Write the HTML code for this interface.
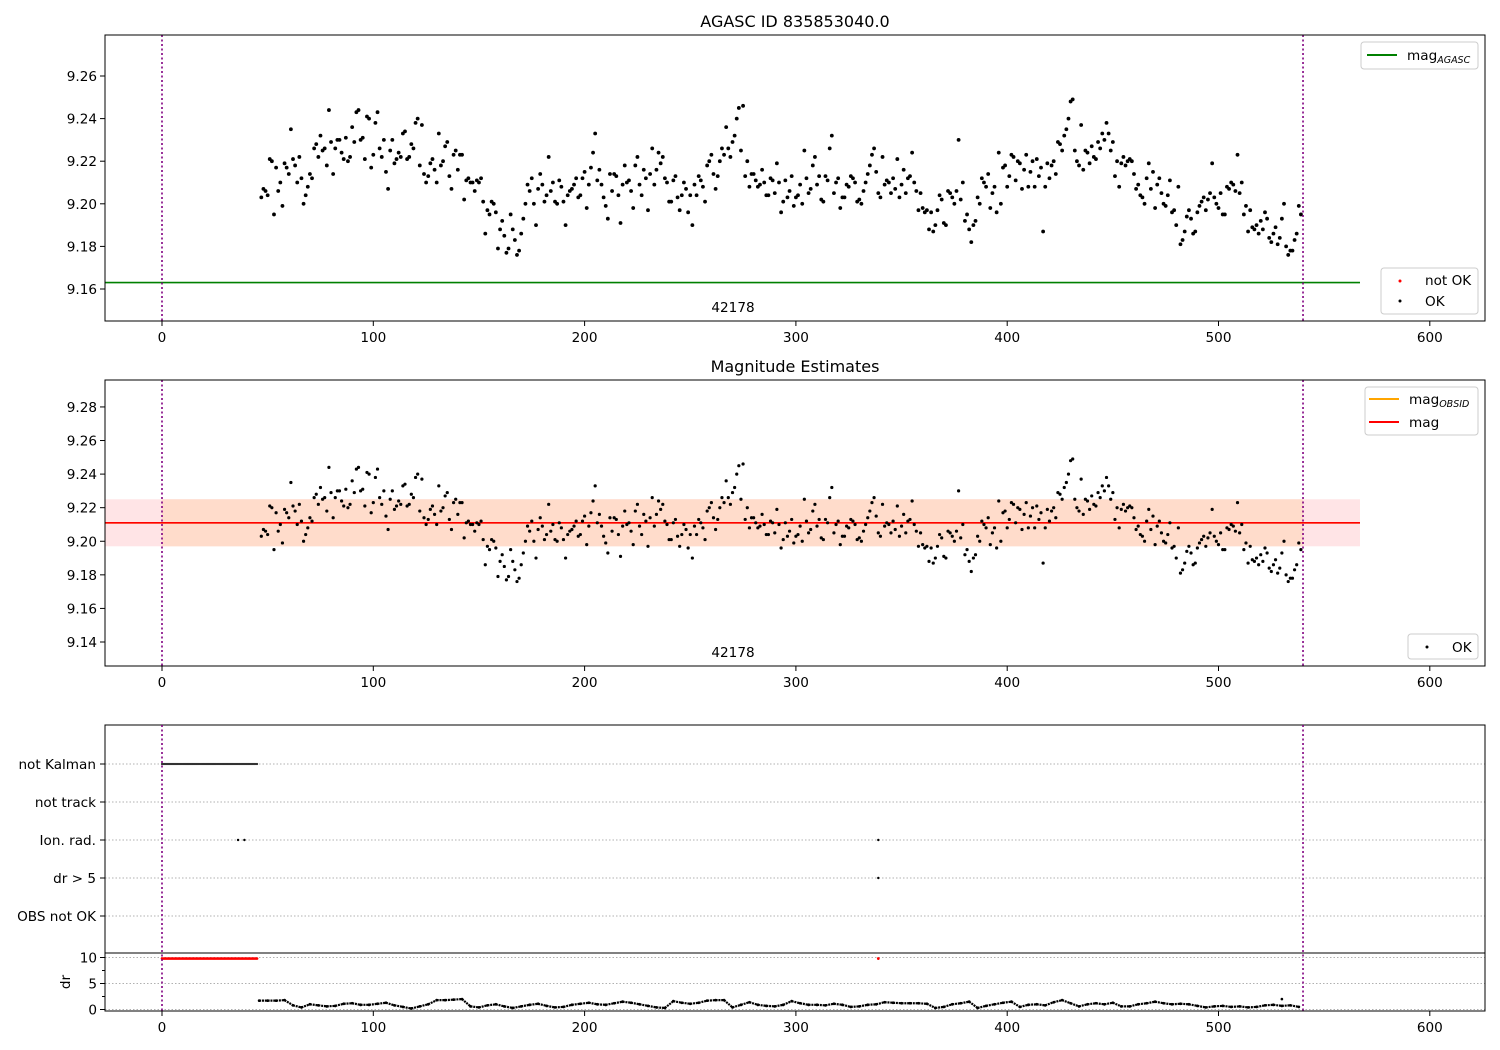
<!DOCTYPE html>
<html><head><meta charset="utf-8"><style>
body{margin:0;background:#fff}
svg{display:block;font-family:"DejaVu Sans","Liberation Sans",sans-serif}
</style></head><body>
<svg id="fig" width="1500" height="1050" viewBox="0 0 1500 1050" xmlns="http://www.w3.org/2000/svg"></svg>
<script>
// ---- data ----
const magStartX = 47, magStepX = 2;
const magValues = [
9.203,9.206,9.221,9.195,9.206,9.199,9.217,9.235,9.218,9.222,
9.200,9.208,9.212,9.228,9.232,9.226,9.244,9.214,9.230,9.224,
9.231,9.222,9.229,9.244,9.231,9.241,9.217,9.238,9.226,9.230,
9.207,9.230,9.221,9.222,9.234,9.222,9.226,9.240,9.237,9.210,
9.219,9.216,9.233,9.220,9.229,9.207,9.225,9.223,9.202,9.212,
9.210,9.211,9.212,9.186,9.195,9.200,9.179,9.192,9.177,9.195,
9.183,9.178,9.193,9.209,9.212,9.190,9.214,9.201,9.222,9.210,
9.200,9.208,9.190,9.206,9.209,9.203,9.212,9.198,9.217,9.233,
9.216,9.203,9.193,9.206,9.213,9.191,9.218,9.211,9.198,9.222,
9.204,9.212,9.214,9.209,9.224,9.222,9.210,9.201,9.213,9.197,
9.210,9.196,9.190,9.204,9.211,9.201,9.220,9.214,9.213,9.226,
9.236,9.222,9.232,9.245,9.246,9.220,9.214,9.211,9.209,9.210,
9.204,9.211,9.219,9.196,9.211,9.206,9.199,9.204,9.200,9.212,
9.207,9.222,9.213,9.201,9.211,9.232,9.210,9.198,9.203,9.208,
9.212,9.201,9.200,9.210,9.218,9.226,9.205,9.222,9.211,9.205,
9.207,9.203,9.216,9.212,9.224,9.206,9.205,9.196,9.188,9.187,
9.197,9.202,9.190,9.205,9.200,9.230,9.210,9.195,9.182,9.192,
9.200,9.210,9.214,9.205,9.196,9.200,9.218,9.213,9.222,9.220,
9.207,9.223,9.215,9.208,9.213,9.187,9.219,9.218,9.214,9.228,
9.232,9.240,9.249,9.220,9.237,9.225,9.219,9.222,9.229,9.233,
9.238,9.225,9.213,9.208,9.222,9.220,9.220,9.207,9.204,9.200,
9.219,9.215,9.209,9.205,9.199,9.211,9.197,9.208,9.183,9.194,
9.193,9.187,9.199,9.203,9.202,9.219,9.200,9.205,9.195,9.207,
9.209,9.223,9.210,9.199,9.197,9.188,9.186,9.188,9.193,9.182,
9.189,9.184,9.200,9.176,9.178,9.186,9.195];
const magStartXB = 48;
const magValuesB = [
9.207,9.204,9.220,9.217,9.210,9.219,9.214,9.221,9.210,9.212,
9.204,9.214,9.226,9.222,9.225,9.218,9.229,9.226,9.230,9.221,
9.220,9.236,9.243,9.230,9.221,9.240,9.223,9.243,9.222,9.215,
9.225,9.219,9.224,9.233,9.221,9.228,9.238,9.218,9.214,9.213,
9.221,9.210,9.218,9.227,9.213,9.223,9.216,9.223,9.211,9.210,
9.206,9.210,9.201,9.197,9.201,9.196,9.188,9.185,9.179,9.188,
9.176,9.186,9.200,9.206,9.200,9.207,9.209,9.204,9.206,9.201,
9.211,9.201,9.204,9.207,9.212,9.204,9.215,9.209,9.224,9.211,
9.209,9.199,9.214,9.214,9.204,9.209,9.210,9.206,9.218,9.209,
9.216,9.197,9.226,9.216,9.219,9.212,9.201,9.211,9.203,9.204,
9.207,9.204,9.209,9.213,9.208,9.218,9.223,9.207,9.220,9.223,
9.226,9.229,9.240,9.225,9.213,9.208,9.214,9.208,9.216,9.204,
9.212,9.205,9.210,9.201,9.203,9.213,9.203,9.209,9.225,9.205,
9.218,9.209,9.202,9.213,9.226,9.205,9.212,9.203,9.209,9.213,
9.210,9.202,9.206,9.214,9.223,9.215,9.203,9.209,9.210,9.212,
9.221,9.209,9.205,9.213,9.210,9.197,9.198,9.197,9.196,9.190,
9.204,9.191,9.206,9.203,9.206,9.202,9.192,9.188,9.190,9.203,
9.212,9.208,9.198,9.208,9.224,9.217,9.208,9.223,9.211,9.219,
9.216,9.208,9.220,9.221,9.217,9.208,9.212,9.220,9.229,9.225,
9.235,9.248,9.225,9.218,9.216,9.224,9.227,9.221,9.226,9.230,
9.233,9.229,9.220,9.219,9.218,9.221,9.214,9.209,9.203,9.212,
9.207,9.198,9.212,9.200,9.204,9.196,9.190,9.181,9.187,9.197,
9.186,9.196,9.201,9.197,9.205,9.203,9.198,9.195,9.208,9.210,
9.206,9.205,9.195,9.187,9.189,9.190,9.192,9.196,9.184,9.186,
9.181,9.193,9.180,9.178,9.183,9.199];
const magAgasc = 9.163;
const magMean = 9.211;
const magBandLow = 9.197, magBandHigh = 9.225;
const obsStart = 0, obsStop = 540;
const drStartX = 46, drStepX = 4;
const drValues = [1.7,1.7,1.7,1.8,0.8,0.4,1.0,0.8,0.6,0.7,1.1,1.2,0.9,0.9,1.1,1.3,0.8,0.5,0.2,0.6,
1.0,1.8,1.8,1.9,2.0,0.6,0.4,0.8,1.0,0.6,0.3,0.6,0.9,1.1,0.7,0.4,0.5,0.9,1.1,1.3,
1.0,0.9,1.2,1.5,1.3,1.0,0.7,0.4,0.3,1.6,1.3,1.1,1.3,1.7,1.8,1.8,0.4,0.9,1.4,0.9,
0.7,0.6,0.9,1.6,1.2,0.9,0.9,0.8,1.1,0.9,0.5,0.6,0.9,1.0,1.4,1.3,1.2,1.2,1.2,1.1,
0.3,0.5,1.0,1.2,1.5,0.3,0.7,1.0,1.3,1.5,0.5,0.9,1.0,0.8,1.4,1.8,1.2,0.6,1.0,1.2,
1.0,1.3,0.6,0.6,1.0,1.2,1.5,1.2,1.0,1.1,1.0,0.7,0.4,0.6,0.7,0.5,0.6,0.4,0.5,0.8,
0.9,0.7,0.8,0.5];
const drOutlierX = [530], drOutlierV = [2.0];
const badStart = 0, badStop = 45, badStep = 0.5, badDr = 9.8;
const badExtraX = [339];
const flagLabels = ["OBS not OK","dr > 5","Ion. rad.","not track","not Kalman"];
const ionRadX = [36, 39, 339];
const drGt5X = [339];
const xTicks = [0,100,200,300,400,500,600];
const mag1Ticks = [9.16,9.18,9.20,9.22,9.24,9.26];
const mag2Ticks = [9.14,9.16,9.18,9.20,9.22,9.24,9.26,9.28];
const drTicks = [0,5,10];

// ---- helpers ----
const NS="http://www.w3.org/2000/svg", svg=document.getElementById('fig');
function el(tag, attrs, parent){const e=document.createElementNS(NS,tag);for(const k in attrs)e.setAttribute(k,attrs[k]);(parent||svg).appendChild(e);return e;}
const L=105,R=1485,FS=13.6;
const xs=v=>162+(v-0)*2.113;
const y1=v=>289-(v-9.16)*2130;
const y2=v=>642-(v-9.14)*1679;
const yf=i=>916-i*38;
const yd=v=>1009.5-v*5.2;

function xAxis(bottom){
  xTicks.forEach(t=>{
    el('line',{x1:xs(t),x2:xs(t),y1:bottom,y2:bottom+5,stroke:'#000'});
    const tx=el('text',{x:xs(t),y:bottom+21,'text-anchor':'middle','font-size':FS});
    tx.textContent=t;
    
    
  });
}
function yAxis(ticks,f,fmt){
  ticks.forEach(t=>{
    el('line',{x1:L-5,x2:L,y1:f(t),y2:f(t),stroke:'#000'});
    const tx=el('text',{x:L-8,y:f(t)+5,'text-anchor':'end','font-size':FS});
    tx.textContent=fmt(t);
    
    
  });
}
function vlines(top,bottom){
  [obsStart,obsStop].forEach(v=>{
    const l=el('line',{x1:xs(v),x2:xs(v),y1:top,y2:bottom,stroke:'#800080','stroke-width':1.6,'stroke-dasharray':'2,2.5'});
    
    
  });
}
function dots(f,g,r){
  magValues.forEach((v,i)=>{
    const c=el('circle',{cx:xs(magStartX+i*magStepX),cy:f(v),r:r,fill:'#000'},g);
    
    
  });
  magValuesB.forEach((v,i)=>{
    const c=el('circle',{cx:xs(magStartXB+i*magStepX),cy:f(v),r:r,fill:'#000'},g);
    
    
  });
}
function frame(top,bottom,name){
  const r=el('rect',{x:L,y:top,width:R-L,height:bottom-top,fill:'none',stroke:'#000','stroke-width':1});
  
  
}

// ---- panel 1 ----
{
  const g=el('g',{});
  
  
  const t=el('text',{x:795,y:27,'text-anchor':'middle','font-size':16},g);t.textContent='AGASC ID 835853040.0';
  
  el('line',{x1:L,x2:1360,y1:y1(magAgasc),y2:y1(magAgasc),stroke:'#008000','stroke-width':1.6},g);
  dots(y1,g,1.9);
  vlines(35,321);
  const o=el('text',{x:733,y:312,'text-anchor':'middle','font-size':FS},g);o.textContent='42178';
  frame(35,321,'agasc-axes');
  xAxis(321);yAxis(mag1Ticks,y1,v=>v.toFixed(2));
  el('rect',{x:1361,y:42,width:117,height:27,rx:3,fill:'#fff',stroke:'#ccc'},g);
  el('line',{x1:1367,x2:1397,y1:55,y2:55,stroke:'#008000','stroke-width':2},g);
  const lt=el('text',{x:1407,y:60,'font-size':FS},g);lt.innerHTML='mag<tspan font-size="9.5" font-style="italic" dy="3">AGASC</tspan>';
  
  el('rect',{x:1381,y:268,width:97,height:46,rx:3,fill:'#fff',stroke:'#ccc'},g);
  el('circle',{cx:1400,cy:281,r:1.5,fill:'red'},g);
  const a=el('text',{x:1425,y:285,'font-size':FS},g);a.textContent='not OK';
  
  el('circle',{cx:1400,cy:301,r:1.5,fill:'#000'},g);
  const b=el('text',{x:1425,y:306,'font-size':FS},g);b.textContent='OK';
  
}
// ---- panel 2 ----
{
  const g=el('g',{});
  
  
  const t=el('text',{x:795,y:372,'text-anchor':'middle','font-size':16},g);t.textContent='Magnitude Estimates';
  
  el('rect',{x:L,y:y2(magBandHigh),width:1360-L,height:y2(magBandLow)-y2(magBandHigh),fill:'#ffe4e6'},g);
  el('rect',{x:xs(obsStart),y:y2(magBandHigh),width:xs(obsStop)-xs(obsStart),height:y2(magBandLow)-y2(magBandHigh),fill:'#ffdccb'},g);
  el('line',{x1:L,x2:1360,y1:y2(magMean),y2:y2(magMean),stroke:'#ffa500','stroke-width':1.6},g);
  el('line',{x1:L,x2:1360,y1:y2(magMean),y2:y2(magMean),stroke:'red','stroke-width':1.6},g);
  dots(y2,g,1.6);
  vlines(380,666);
  const o=el('text',{x:733,y:657,'text-anchor':'middle','font-size':FS},g);o.textContent='42178';
  frame(380,666,'magnitude-axes');
  xAxis(666);yAxis(mag2Ticks,y2,v=>v.toFixed(2));
  el('rect',{x:1365,y:387,width:113,height:48,rx:3,fill:'#fff',stroke:'#ccc'},g);
  el('line',{x1:1369,x2:1399,y1:399,y2:399,stroke:'#ffa500','stroke-width':2},g);
  const l1=el('text',{x:1409,y:404,'font-size':FS},g);l1.innerHTML='mag<tspan font-size="9.5" font-style="italic" dy="3">OBSID</tspan>';
  
  el('line',{x1:1369,x2:1399,y1:422,y2:422,stroke:'red','stroke-width':2},g);
  const l2=el('text',{x:1409,y:427,'font-size':FS},g);l2.textContent='mag';
  
  el('rect',{x:1408,y:634,width:70,height:25,rx:3,fill:'#fff',stroke:'#ccc'},g);
  el('circle',{cx:1427,cy:647,r:1.5,fill:'#000'},g);
  const l3=el('text',{x:1452,y:652,'font-size':FS},g);l3.textContent='OK';
  
}
// ---- panel 3 flags ----
{
  const g=el('g',{});
  
  
  flagLabels.forEach((lab,i)=>{
    el('line',{x1:L,x2:R,y1:yf(i),y2:yf(i),stroke:'#b0b0b0','stroke-dasharray':'1.5,2'},g);
    el('line',{x1:L-5,x2:L,y1:yf(i),y2:yf(i),stroke:'#000'},g);
    const tx=el('text',{x:L-9,y:yf(i)+5,'text-anchor':'end','font-size':FS},g);tx.textContent=lab;
    
  });
  for(let v=badStart;v<=badStop;v+=badStep){
    el('circle',{cx:xs(v),cy:yf(4),r:1.1,fill:'#333'},g);
  }
  ionRadX.forEach(v=>{const c=el('circle',{cx:xs(v),cy:yf(2),r:1.2,fill:'#000'},g);});
  drGt5X.forEach(v=>{const c=el('circle',{cx:xs(v),cy:yf(1),r:1.2,fill:'#000'},g);});
  frame(725,953,'flags-axes');
}
// ---- dr panel ----
{
  const g=el('g',{});
  
  
  drTicks.forEach(t=>{
    el('line',{x1:L,x2:R,y1:yd(t),y2:yd(t),stroke:'#b0b0b0','stroke-dasharray':'1.5,2'},g);
  });
  [2.5,7.5].forEach(t=>el('line',{x1:L-3,x2:L,y1:yd(t),y2:yd(t),stroke:'#000'},g));
  yAxis(drTicks,yd,v=>v);
  for(let v=badStart;v<=badStop;v+=badStep){
    el('circle',{cx:xs(v),cy:yd(badDr),r:1.3,fill:'red'},g);
  }
  badExtraX.forEach(v=>el('circle',{cx:xs(v),cy:yd(badDr),r:1.4,fill:'red'},g));
  drValues.forEach((v,i)=>{
    const x0=drStartX+i*drStepX;
    const c=el('circle',{cx:xs(x0),cy:yd(v),r:1.4,fill:'#000'},g);
    
    if(i<drValues.length-1){
      el('line',{x1:xs(x0),y1:yd(v),x2:xs(x0+drStepX),y2:yd(drValues[i+1]),stroke:'#000','stroke-width':2.2,'stroke-dasharray':'2,0.8'},g);
    }
  });
  drOutlierX.forEach((v,i)=>el('circle',{cx:xs(v),cy:yd(drOutlierV[i]),r:1.3,fill:'#000'},g));
  const yl=el('text',{x:0,y:0,'font-size':FS,'text-anchor':'middle',transform:'translate(70,982) rotate(-90)'},g);yl.textContent='dr';
  
  xAxis(1011);
  frame(953,1011,'dr-axes');
}
vlines(725,1011);
</script>
</body></html>
